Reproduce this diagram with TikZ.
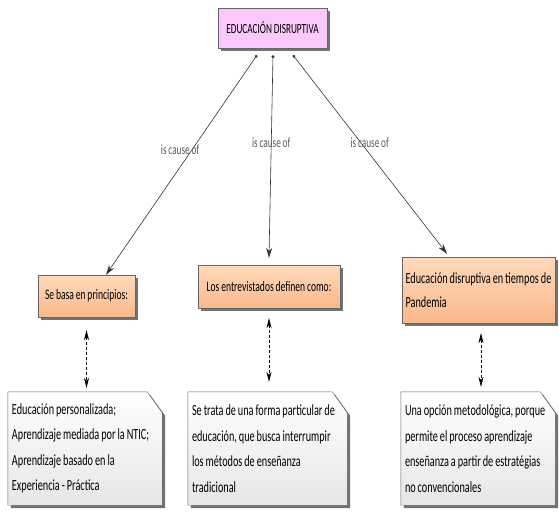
\documentclass[tikz,border=0pt]{standalone}
\usepackage{fontspec}
\setmainfont{Carlito}[FakeStretch=0.66,WordSpace=0.85]
\usetikzlibrary{arrows.meta,shadows,backgrounds}
\definecolor{conceptpink}{RGB}{250,200,250}
\definecolor{topictop}{RGB}{255,218,188}
\definecolor{topicbot}{RGB}{250,184,140}
\definecolor{notebot}{RGB}{230,230,230}
\tikzset{
  concept/.style={draw=black!60, inner sep=3pt, text=black,
    font=\fontsize{14.5}{19.5}\selectfont,
    drop shadow={shadow xshift=3pt, shadow yshift=-3pt, fill=black!55, opacity=1}},
  topic/.style={concept, top color=topictop, bottom color=topicbot},
  note/.style={inner sep=4pt, text=black, align=flush left, minimum height=113pt,
    font=\fontsize{15.5}{25.5}\selectfont},
  notebox/.style={draw=black!60, top color=white, bottom color=notebot,
    drop shadow={shadow xshift=3pt, shadow yshift=-3pt, fill=black!55, opacity=1}},
  link/.style={draw=black!80, semithick, {Circle[length=3pt]}-{Stealth[length=10pt,width=6pt]}},
  linklabel/.style={text=black!65, font=\fontsize{14}{16}\selectfont},
  dashlink/.style={draw=black, semithick, dash pattern=on 3pt off 2pt,
    {Stealth[length=10pt,width=5pt]}-{Stealth[length=10pt,width=5pt]}}
}
\begin{document}
\begin{tikzpicture}[x=1pt,y=-1pt]
\useasboundingbox (0,0) rectangle (559,517);

\node[concept, fill=conceptpink, minimum width=109pt, minimum height=40pt,
  font=\fontsize{14}{16}\selectfont] (top) at (272.5,28) {EDUCACIÓN DISRUPTIVA};

\node[topic, minimum width=97pt, minimum height=42pt] (basa) at (86.5,296) {Se basa en principios:};
\node[topic, minimum width=142pt, minimum height=43pt] (entre) at (269,286.5) {Los entrevistados definen como:};
\node[topic, minimum width=153pt, minimum height=66pt, align=flush left,
  font=\fontsize{15.5}{24}\selectfont] (pand) at (478.5,290) {Educación disruptiva en tiempos de\\Pandemia};

\node[note, text width=146pt] (n1) at (85,448.5)
  {Educación personalizada;\\Aprendizaje mediada por la NTIC;\\Aprendizaje basado en la\\Experiencia - Práctica};
\node[note, text width=151pt] (n2) at (267.5,448.5)
  {Se trata de una forma particular de\\educación, que busca interrumpir\\los métodos de enseñanza\\tradicional};
\node[note, text width=146pt] (n3) at (478,448.5)
  {Una opción metodológica, porque\\permite el proceso aprendizaje\\enseñanza a partir de estratégias\\no convencionales};

% folded corner of the notes
\begin{pgfonlayer}{background}
\foreach \n in {n1,n2,n3}{
  \path[notebox] (\n.south west) -- (\n.north west) -- ([xshift=-15pt]\n.north east)
    -- ([yshift=-21pt]\n.north east) -- (\n.south east) -- cycle;
}
\end{pgfonlayer}

\draw[link] ([xshift=-15.5pt,yshift=-7pt]top.south) -- ([xshift=19.5pt]basa.north)
  node[linklabel, pos=0.43, xshift=-12pt] {is cause of};
\draw[link] ([xshift=0.5pt,yshift=-7pt]top.south) -- ([yshift=7pt]entre.north)
  node[linklabel, pos=0.43] {is cause of};
\draw[link] ([xshift=20.5pt,yshift=-7pt]top.south) -- ([xshift=-31.5pt,yshift=3pt]pand.north)
  node[linklabel, pos=0.44, xshift=9pt] {is cause of};

\draw[dashlink] ([yshift=-13pt]basa.south) -- ([yshift=4pt]basa.south |- n1.north);
\draw[dashlink] ([yshift=-10pt]entre.south) -- ([yshift=10pt]entre.south |- n2.north);
\draw[dashlink] ([xshift=2.5pt,yshift=-10pt]pand.south) -- ([xshift=2.5pt,yshift=5pt]pand.south |- n3.north);
\end{tikzpicture}
\end{document}
